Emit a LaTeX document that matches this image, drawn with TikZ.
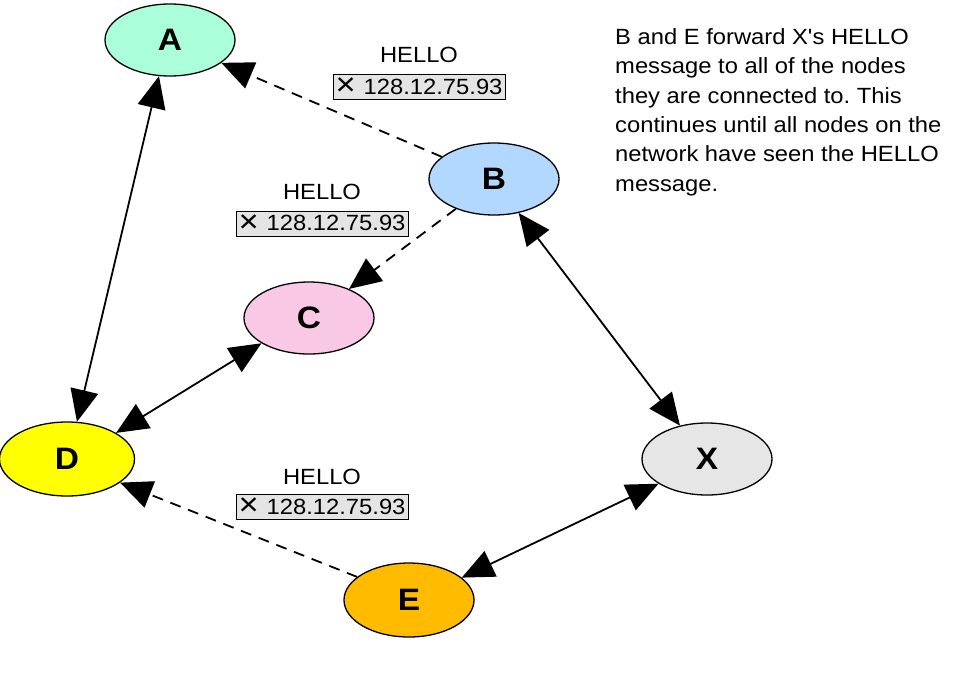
\documentclass[tikz,border=0pt]{standalone}
\usepackage{fontspec}
\setmainfont{Liberation Sans}[Ligatures=TeXOff,FakeStretch=1.08]
\usetikzlibrary{shapes.geometric,arrows.meta}
\frenchspacing

\definecolor{fillA}{RGB}{170,255,218}
\definecolor{fillB}{RGB}{178,216,255}
\definecolor{fillC}{RGB}{248,200,228}
\definecolor{fillD}{RGB}{255,255,0}
\definecolor{fillX}{RGB}{230,230,230}
\definecolor{fillE}{RGB}{255,187,0}
\definecolor{tagfill}{RGB}{228,228,228}

\newcommand{\cross}{\raisebox{-1.5pt}{\fontsize{32}{25}\selectfont ×}\hspace{8pt}}

\begin{document}
\begin{tikzpicture}[x=1pt,y=-1pt,
  host/.style={ellipse,draw=black,line width=1.3pt,minimum width=130pt,minimum height=72pt,
    inner sep=0pt,font=\fontsize{31}{36}\selectfont\bfseries},
  link/.style={line width=1.8pt,{Triangle[length=32pt,width=28pt]}-{Triangle[length=32pt,width=28pt]}},
  hop/.style={line width=1.8pt,dash pattern=on 11pt off 8pt,-{Triangle[length=32pt,width=28pt]}},
  msg/.style={inner sep=0pt,font=\fontsize{22}{25}\selectfont},
  tag/.style={draw=black,fill=tagfill,line width=0.8pt,minimum height=25pt,inner xsep=2.5pt,
    inner ysep=0pt,font=\fontsize{22}{25}\selectfont},
  note/.style={align=left,inner sep=0pt,font=\fontsize{22}{29.3}\selectfont}]
\useasboundingbox (0,0) rectangle (963,675);

% the hosts
\node[host,fill=fillA] (A) at (170,40) {A};
\node[host,fill=fillB] (B) at (494,179) {B};
\node[host,fill=fillC] (C) at (309,318) {C};
\node[host,fill=fillD,minimum width=135pt,minimum height=74pt] (D) at (67,459) {D};
\node[host,fill=fillX] (X) at (707,459) {X};
\node[host,fill=fillE,minimum height=74pt] (E) at (409,600) {E};

% connections
\draw[link] (A.253) -- (D.75.6);
\draw[link] (C.208) -- (D.28.4);
\draw[link] (B.306.4) -- (X.129.5);
\draw[link] (E.23.5) -- (X.207.5);

% forwarded HELLO messages
\draw[hop] (B.157.5) -- (A.336.5);
\draw[hop] (B.218.5) -- (C.36.2);
\draw[hop] (E.156.7) -- (D.336.8);

\node[msg] (helloA) at (419,55) {HELLO};
\node[tag] (tagA) at (419,87) {\cross 128.12.75.93};
\node[msg] (helloC) at (322,192) {HELLO};
\node[tag] (tagC) at (322,223.5) {\cross 128.12.75.93};
\node[msg] (helloD) at (322,477) {HELLO};
\node[tag] (tagD) at (322,507) {\cross 128.12.75.93};

\node[note,anchor=north west] (note) at (615,28.5) {B and E forward X's HELLO\\
message to all of the nodes\\they are connected to. This\\continues until all nodes on the\\
network have seen the HELLO\\message.};
\end{tikzpicture}
\end{document}
